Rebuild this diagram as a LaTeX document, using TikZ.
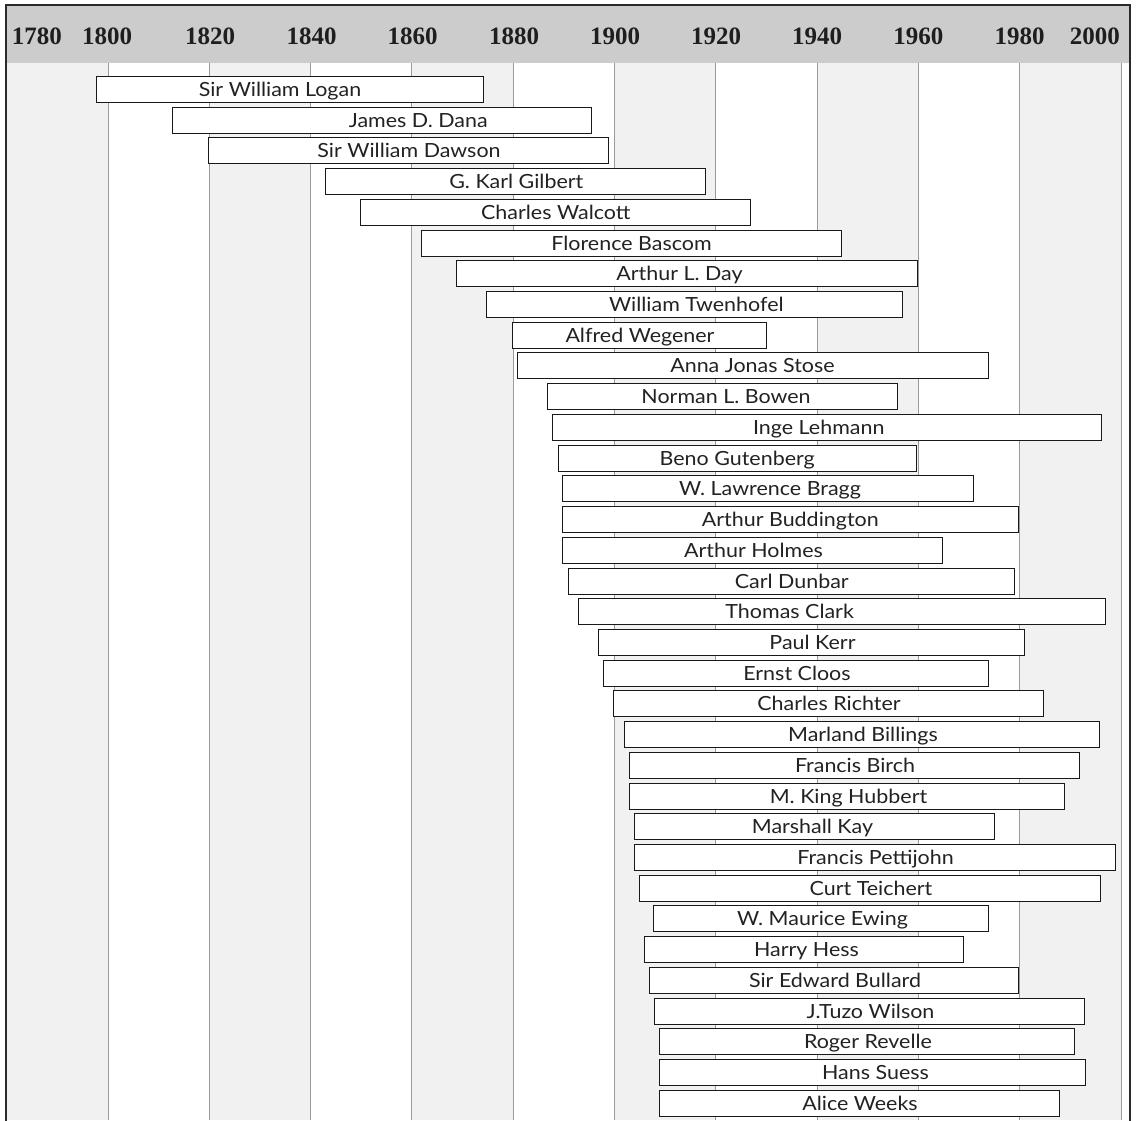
\documentclass[tikz,border=0pt]{standalone}
\usepackage{fontspec}
\setmainfont{Lato}
\newfontfamily\barfont[FakeStretch=1.1]{Lato}
\newfontfamily\yearfont{Liberation Serif}
\definecolor{headgray}{HTML}{CCCCCC}
\definecolor{colgray}{HTML}{F1F1F1}
\definecolor{gridgray}{HTML}{9A9A9A}
\definecolor{framedark}{HTML}{2A2A2A}
\definecolor{bartext}{HTML}{222222}
\definecolor{yeartext}{HTML}{1E1E1E}
\begin{document}
\begin{tikzpicture}[x=1pt,y=-1pt,
  yearlab/.style={font=\yearfont\bfseries\fontsize{25}{30}\selectfont, text=yeartext, inner sep=0pt},
  bar/.style={draw=black!90, line width=1.5pt, fill=white, rectangle, inner sep=0pt, outer sep=0pt, minimum height=26pt, anchor=north west},
  barlab/.style={font=\barfont\fontsize{19.5}{22}\selectfont, text=bartext, inner sep=0pt, anchor=base},
  gridline/.style={draw=gridgray, line width=1pt},
  framestyle/.style={draw=framedark, line width=2.3pt}]
\useasboundingbox (0,0) rectangle (1137,1120);
% body background and alternating columns
\fill[white] (6,63.3) rectangle (1130,1120);
\foreach \xa/\xb in {6/108, 209/310, 411/513, 614/715, 817/918, 1019/1121}
  \fill[colgray] (\xa,63.3) rectangle (\xb,1120);
% header band
\fill[headgray] (6,5) rectangle (1130,63.3);
% grid lines
\foreach \gx in {108, 209, 310, 411, 513, 614, 715, 817, 918, 1019, 1121}
  \draw[gridline] (\gx+0.5,63.3) -- (\gx+0.5,1120);
% frame
\draw[framestyle] (6,1121) -- (6,5) -- (1129.8,5) -- (1129.8,1121);
% year labels
\node[yearlab, anchor=west] (y1780) at (11.7,36.5) {1780};
\node[yearlab] (y1800) at (107,36.5) {1800};
\node[yearlab] (y1820) at (210,36.5) {1820};
\node[yearlab] (y1840) at (311.7,36.5) {1840};
\node[yearlab] (y1860) at (412.5,36.5) {1860};
\node[yearlab] (y1880) at (514,36.5) {1880};
\node[yearlab] (y1900) at (615,36.5) {1900};
\node[yearlab] (y1920) at (716,36.5) {1920};
\node[yearlab] (y1940) at (817.2,36.5) {1940};
\node[yearlab] (y1960) at (918.3,36.5) {1960};
\node[yearlab] (y1980) at (1019.5,36.5) {1980};
\node[yearlab, anchor=east] (y2000) at (1120,36.5) {2000};
% bars
\foreach \a/\b/\t/\n [count=\i from 0] in {
  97.3/484/280/Sir William Logan,
  173.3/591.7/418.3/James D. Dana,
  209.3/609.3/409/Sir William Dawson,
  325.7/705.7/516.3/G. Karl Gilbert,
  361/750.7/555.8/Charles Walcott,
  421.7/842.3/631.5/Florence Bascom,
  457.3/918.3/679.5/Arthur L. Day,
  487.3/903.3/696.3/William Twenhofel,
  513.3/766.7/640/Alfred Wegener,
  518.3/989.3/752.5/Anna Jonas Stose,
  547.7/898.3/726/Norman L. Bowen,
  553.3/1101.7/818.8/Inge Lehmann,
  558.7/917.3/737.2/Beno Gutenberg,
  563.3/973.7/770/W. Lawrence Bragg,
  563.3/1019.3/790.3/Arthur Buddington,
  563.3/943.3/753.5/Arthur Holmes,
  569.3/1014.7/791.8/Carl Dunbar,
  579/1105.7/789.7/Thomas Clark,
  598.7/1024.7/812.5/Paul Kerr,
  604.3/989.3/797/Ernst Cloos,
  614.3/1044.3/829/Charles Richter,
  624.7/1100/863/Marland Billings,
  629.7/1080/855/Francis Birch,
  629.7/1065.3/848.5/M. King Hubbert,
  634.7/994.7/812.5/Marshall Kay,
  634.7/1116.3/875.5/Francis Pettijohn,
  640/1101/871/Curt Teichert,
  654/988.7/822.5/W. Maurice Ewing,
  645.3/964.3/806.5/Harry Hess,
  649.7/1019.3/835/Sir Edward Bullard,
  654.7/1085.3/870.5/J.Tuzo Wilson,
  660/1075.3/868/Roger Revelle,
  660/1086/875.5/Hans Suess,
  660/1060.3/860/Alice Weeks}
{
  \pgfmathsetmacro{\top}{round(76.0+30.72*\i)+0.5}
  \pgfmathsetmacro{\xa}{round(\a)-0.5}
  \pgfmathsetmacro{\w}{round(\b)-round(\a)}
  \node[bar, minimum width=\w pt] (bar\i) at (\xa,\top) {};
  \node[barlab] (lab\i) at (\t,\top+20) {\n};
}
\end{tikzpicture}
\end{document}
